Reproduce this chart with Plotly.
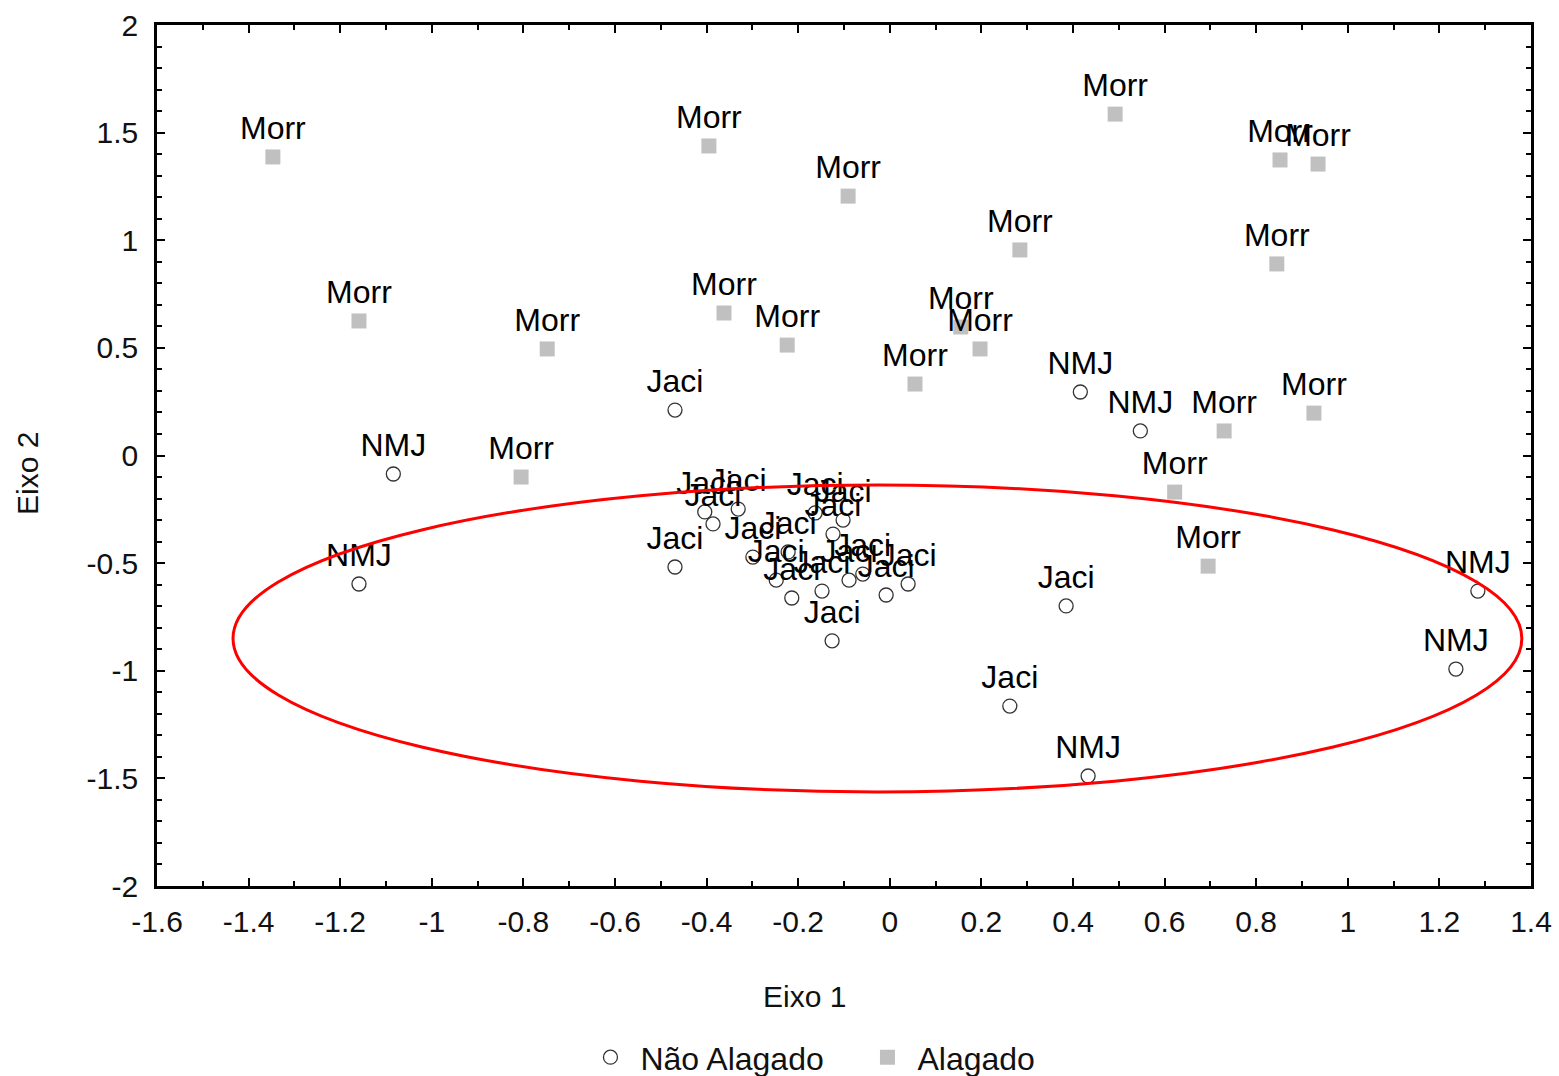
import plotly.graph_objects as go

# ---- data ----
jaci_x = [-0.469, -0.469, -0.404, -0.386, -0.331, -0.299, -0.248, -0.222, -0.214, -0.163,
          -0.148, -0.124, -0.102, -0.089, -0.059, -0.008, 0.040, -0.126, 0.385, 0.262]
jaci_y = [0.211, -0.518, -0.262, -0.318, -0.249, -0.472, -0.579, -0.448, -0.662, -0.267,
          -0.630, -0.365, -0.300, -0.579, -0.551, -0.648, -0.597, -0.861, -0.699, -1.164]
nmj_x = [-1.084, -1.159, 0.416, 0.547, 1.284, 1.236, 0.433]
nmj_y = [-0.086, -0.597, 0.295, 0.114, -0.630, -0.992, -1.489]
morr_x = [-1.347, -1.159, -0.748, -0.805, -0.395, -0.362, -0.224, -0.091, 0.055, 0.155,
          0.197, 0.284, 0.492, 0.852, 0.935, 0.845, 0.730, 0.926, 0.622, 0.695]
morr_y = [1.387, 0.625, 0.495, -0.100, 1.438, 0.662, 0.513, 1.205, 0.332, 0.597,
          0.495, 0.955, 1.586, 1.373, 1.354, 0.890, 0.114, 0.197, -0.170, -0.514]

group_names = ["Não Alagado", "Alagado"]
x_tickvals = [-1.6, -1.4, -1.2, -1.0, -0.8, -0.6, -0.4, -0.2, 0.0, 0.2, 0.4, 0.6, 0.8, 1.0, 1.2, 1.4]
x_ticktext = ["-1.6", "-1.4", "-1.2", "-1", "-0.8", "-0.6", "-0.4", "-0.2", "0",
              "0.2", "0.4", "0.6", "0.8", "1", "1.2", "1.4"]
y_tickvals = [-2.0, -1.5, -1.0, -0.5, 0.0, 0.5, 1.0, 1.5, 2.0]
y_ticktext = ["-2", "-1.5", "-1", "-0.5", "0", "0.5", "1", "1.5", "2"]

# ellipse (center and semi-axes, in data units)
ell_cx, ell_cy = -0.027, -0.850
ell_a, ell_b = 1.407, 0.713

FONT = "Arial, Liberation Sans, sans-serif"

fig = go.Figure()

circ_x = jaci_x + nmj_x
circ_y = jaci_y + nmj_y
circ_text = ["Jaci"] * len(jaci_x) + ["NMJ"] * len(nmj_x)

fig.add_trace(go.Scatter(
    x=circ_x, y=circ_y, text=circ_text, mode="markers+text",
    textposition="top center", name=group_names[0],
    textfont=dict(family=FONT, size=32, color="black"),
    marker=dict(symbol="circle-open", size=14, color="#333333", line=dict(width=1.3, color="#333333")),
    cliponaxis=False,
))
fig.add_trace(go.Scatter(
    x=morr_x, y=morr_y, text=["Morr"] * len(morr_x), mode="markers+text",
    textposition="top center", name=group_names[1],
    textfont=dict(family=FONT, size=32, color="black"),
    marker=dict(symbol="square", size=15, color="#c0c0c0", line=dict(width=0)),
    cliponaxis=False,
))

fig.add_shape(type="circle", xref="x", yref="y",
              x0=ell_cx - ell_a, x1=ell_cx + ell_a, y0=ell_cy - ell_b, y1=ell_cy + ell_b,
              line=dict(color="#ff0000", width=3))

axis_common = dict(
    showgrid=False, zeroline=False, showline=True, linecolor="black", linewidth=2.5,
    mirror="allticks", ticks="inside", ticklen=8, tickwidth=2, tickcolor="black",
    tickfont=dict(family=FONT, size=30, color="#111111"),
)

fig.update_xaxes(range=[-1.6, 1.4], tickmode="array", tickvals=x_tickvals, ticktext=x_ticktext,
                 ticklabelstandoff=7,
                 minor=dict(tickmode="linear", tick0=0, dtick=0.1, ticks="inside", ticklen=5,
                            tickwidth=2, tickcolor="black"),
                 **axis_common)
fig.update_yaxes(range=[-2, 2], tickmode="array", tickvals=y_tickvals, ticktext=y_ticktext,
                 ticklabelstandoff=10,
                 minor=dict(tickmode="linear", tick0=0, dtick=0.1, ticks="inside", ticklen=5,
                            tickwidth=2, tickcolor="black"),
                 **axis_common)

fig.add_annotation(text="Eixo 1", xref="paper", yref="paper", x=0.4716, y=-0.1289,
                   showarrow=False, font=dict(family=FONT, size=30, color="#111111"),
                   xanchor="center", yanchor="middle")
fig.add_annotation(text="Eixo 2", xref="paper", yref="paper", x=-0.0946, y=0.4785,
                   showarrow=False, textangle=-90, font=dict(family=FONT, size=30, color="#111111"),
                   xanchor="center", yanchor="middle")

fig.update_layout(
    width=1559, height=1076,
    margin=dict(l=157, r=28, t=25, b=190, autoexpand=False),
    paper_bgcolor="white", plot_bgcolor="white",
    showlegend=True,
    legend=dict(orientation="h", x=0.3082, xanchor="left", y=-0.199, yanchor="middle",
                font=dict(family=FONT, size=32, color="#111111"), itemsizing="trace",
                itemwidth=50, entrywidth=212, bgcolor="rgba(0,0,0,0)"),
)

fig.write_html("out.html")
